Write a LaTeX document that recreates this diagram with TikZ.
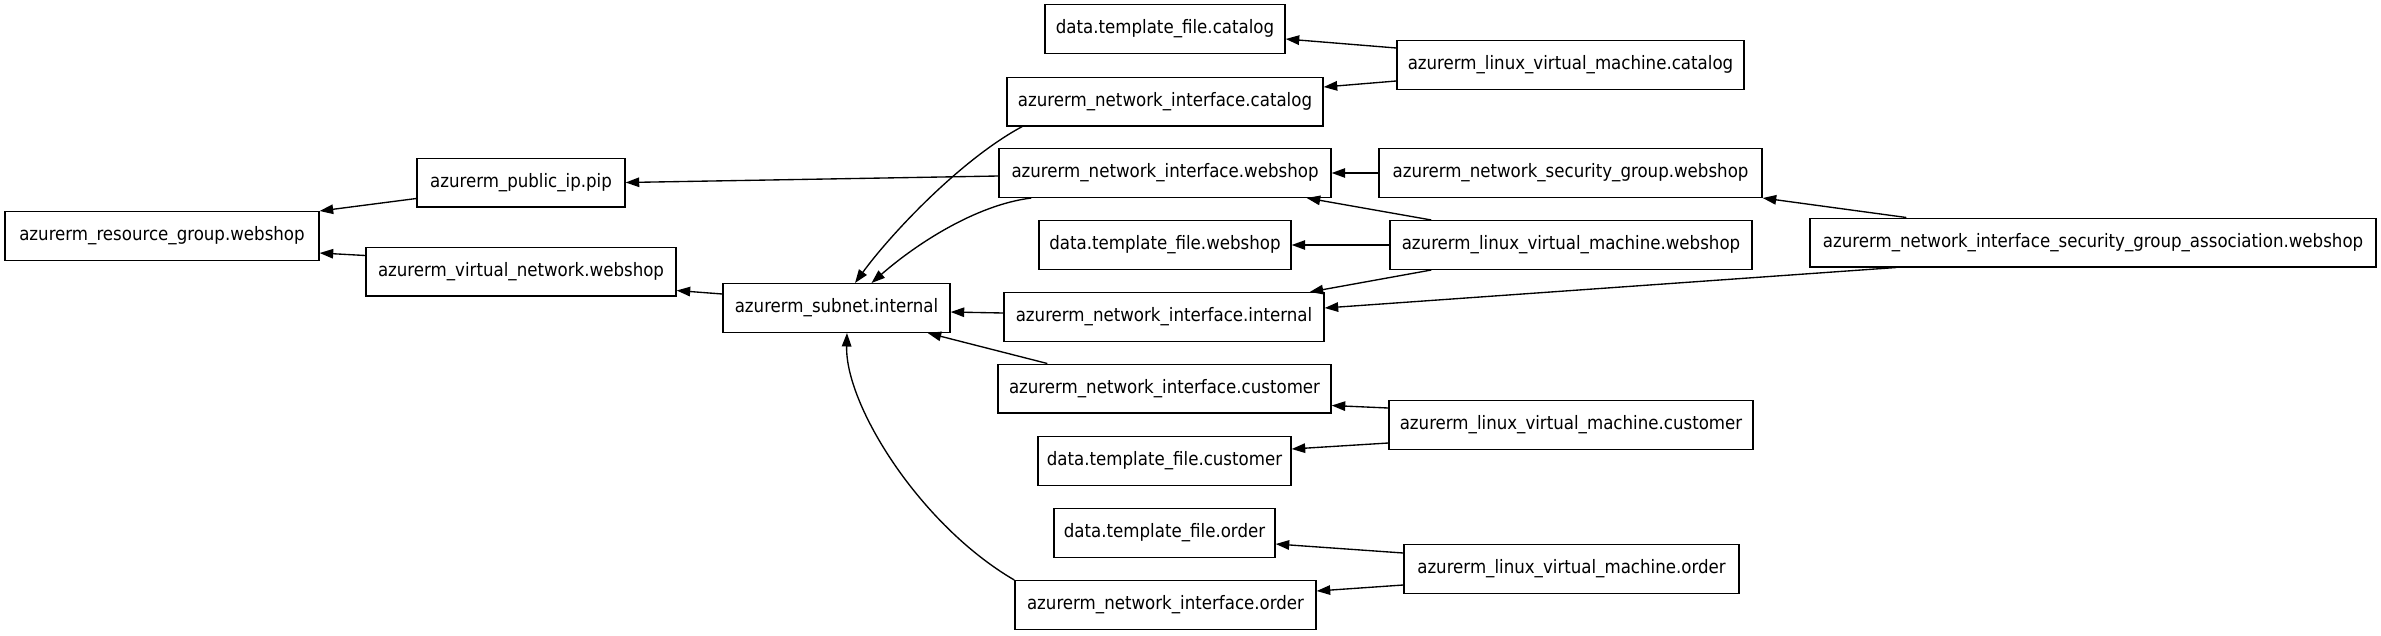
\documentclass[tikz,border=0pt]{standalone}
\usepackage{fontspec}
\setmainfont{DejaVu Sans Condensed}
\usetikzlibrary{arrows.meta}
\tikzset{
  res/.style={draw=black, line width=1.4pt, fill=white, minimum height=48.6pt, inner sep=0pt, font=\fontsize{18.5pt}{22pt}\selectfont},
  dep/.style={line width=1.35pt, -{Triangle[length=13.5pt,width=9.5pt]}}
}
\begin{document}
\begin{tikzpicture}[x=1pt,y=-1pt]
\useasboundingbox (0,0) rectangle (2381,635);
% column 1
\node[res, minimum width=314pt] (rg) at (162,236) {azurerm\_resource\_group.webshop};
% column 2
\node[res, minimum width=208pt] (pip) at (521,182.5) {azurerm\_public\_ip.pip};
\node[res, minimum width=310pt] (vnet) at (521,271.5) {azurerm\_virtual\_network.webshop};
% column 3
\node[res, minimum width=227pt] (subnet) at (836.5,308) {azurerm\_subnet.internal};
% column 4
\node[res, minimum width=240pt] (tcat) at (1165,29) {data.template\_file.catalog};
\node[res, minimum width=316pt] (nicat) at (1165,101.5) {azurerm\_network\_interface.catalog};
\node[res, minimum width=332pt] (niweb) at (1165,173) {azurerm\_network\_interface.webshop};
\node[res, minimum width=252pt] (tweb) at (1165,245) {data.template\_file.webshop};
\node[res, minimum width=320pt] (niint) at (1164,317) {azurerm\_network\_interface.internal};
\node[res, minimum width=333pt] (nicus) at (1164.5,388.5) {azurerm\_network\_interface.customer};
\node[res, minimum width=253pt] (tcus) at (1164.5,461) {data.template\_file.customer};
\node[res, minimum width=221pt] (tord) at (1164.5,533) {data.template\_file.order};
\node[res, minimum width=301pt] (niord) at (1165.5,605) {azurerm\_network\_interface.order};
% column 5
\node[res, minimum width=347pt] (vmcat) at (1570.5,65) {azurerm\_linux\_virtual\_machine.catalog};
\node[res, minimum width=383pt] (nsg) at (1570.5,173) {azurerm\_network\_security\_group.webshop};
\node[res, minimum width=362pt] (vmweb) at (1571,245) {azurerm\_linux\_virtual\_machine.webshop};
\node[res, minimum width=364pt] (vmcus) at (1571,425) {azurerm\_linux\_virtual\_machine.customer};
\node[res, minimum width=335pt] (vmord) at (1571.5,569) {azurerm\_linux\_virtual\_machine.order};
% column 6
\node[res, minimum width=566pt] (nisga) at (2093,242.5) {azurerm\_network\_interface\_security\_group\_association.webshop};

% edges
\draw[dep] ([yshift=9pt]pip.south west) -- (rg.north east);
\draw[dep] ([yshift=-9pt]vnet.north west) -- ([yshift=8pt]rg.south east);
\draw[dep] ([yshift=-11pt]subnet.north west) -- ([yshift=6pt]vnet.south east);
\draw[dep] ([yshift=-3pt]niweb.west) -- (pip.east);
\draw[dep] ([xshift=16pt]nicat.south west) .. controls (960,160) and (890,235) .. ([xshift=18.5pt]subnet.north);
\draw[dep] ([xshift=33pt]niweb.south west) .. controls (975,205) and (915,245) .. ([xshift=35pt]subnet.north);
\draw[dep] ([yshift=4pt]niint.west) -- ([yshift=-4pt]subnet.east);
\draw[dep] ([xshift=50pt]nicus.north west) -- ([xshift=-23pt]subnet.south east);
\draw[dep] (niord.north west) .. controls (920,525) and (845,405) .. ([xshift=10.5pt]subnet.south);
\draw[dep] ([yshift=-8pt]vmcat.north west) -- ([yshift=-10pt]tcat.east);
\draw[dep] ([yshift=9pt]vmcat.south west) -- ([yshift=14.5pt]nicat.east);
\draw[dep] (nsg.west) -- (niweb.east);
\draw[dep] ([xshift=42pt]vmweb.north west) -- ([xshift=-25pt]niweb.south east);
\draw[dep] (vmweb.west) -- (tweb.east);
\draw[dep] ([xshift=42pt]vmweb.south west) -- ([xshift=-15pt]niint.north east);
\draw[dep] ([xshift=87pt]nisga.south west) -- ([yshift=9pt]niint.east);
\draw[dep] ([xshift=97pt]nisga.north west) -- (nsg.south east);
\draw[dep] ([yshift=-8pt]vmcus.north west) -- ([yshift=8pt]nicus.south east);
\draw[dep] ([yshift=7pt]vmcus.south west) -- ([yshift=12pt]tcus.east);
\draw[dep] ([yshift=-9pt]vmord.north west) -- ([yshift=-11pt]tord.east);
\draw[dep] ([yshift=9pt]vmord.south west) -- ([yshift=14pt]niord.east);
\end{tikzpicture}
\end{document}
